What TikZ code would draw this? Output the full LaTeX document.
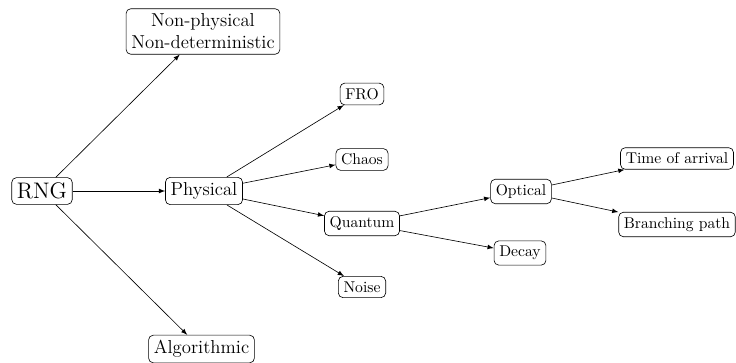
\documentclass[tikz,border=0pt]{standalone}
\usetikzlibrary{arrows}
\begin{document}
\begin{tikzpicture}[x=0.64pt,y=-0.64pt,
  box/.style={draw,rounded corners=3pt,inner sep=3.33pt,align=center},
  conn/.style={-latex,line width=0.4pt}]
\useasboundingbox (0,0) rectangle (736,363);
\node[box,font=\Large] (rng) at (42,191) {RNG};
\node[box,font=\large] (np) at (203,31.5) {Non-physical\\Non-deterministic};
\node[box,font=\large] (phys) at (204,191) {Physical};
\node[box,font=\large] (alg) at (201.5,349) {Algorithmic};
\node[box] (fro) at (362,94) {FRO};
\node[box] (chaos) at (362,159.5) {Chaos};
\node[box] (quant) at (362,223.5) {Quantum};
\node[box] (noise) at (362,287) {Noise};
\node[box] (opt) at (521,191.5) {Optical};
\node[box] (decay) at (520,253) {Decay};
\node[box] (toa) at (677,158.5) {Time of arrival};
\node[box] (bp) at (677,224.5) {Branching path};
\draw[conn] (rng) -- (np);
\draw[conn] (rng) -- (phys);
\draw[conn] (rng) -- (alg);
\draw[conn] (phys) -- (fro);
\draw[conn] (phys) -- (chaos);
\draw[conn] (phys) -- (quant);
\draw[conn] (phys) -- (noise);
\draw[conn] (quant) -- (opt);
\draw[conn] (quant) -- (decay);
\draw[conn] (opt) -- (toa);
\draw[conn] (opt) -- (bp);
\end{tikzpicture}
\end{document}
